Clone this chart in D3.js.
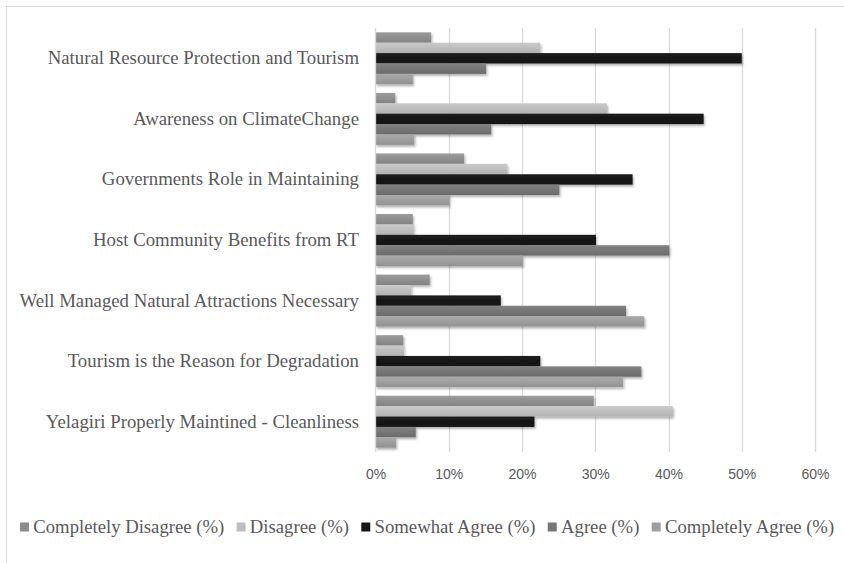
<!DOCTYPE html>
<html>
<head>
<meta charset="utf-8">
<script src="https://cdn.jsdelivr.net/npm/d3@7"></script>
<style>
  html, body { margin: 0; padding: 0; background: #fff; }
  svg { display: block; }
</style>
</head>
<body>
<svg id="chart" width="844" height="563"></svg>
<script>
const categories = [
  "Natural Resource Protection and Tourism",
  "Awareness on ClimateChange",
  "Governments Role in Maintaining",
  "Host Community Benefits from RT",
  "Well Managed Natural Attractions Necessary",
  "Tourism is the Reason for Degradation",
  "Yelagiri Properly Maintined - Cleanliness"
];
const seriesNames = [
  "Completely Disagree (%)",
  "Disagree (%)",
  "Somewhat Agree (%)",
  "Agree (%)",
  "Completely Agree (%)"
];
const completelyDisagree = [7.6, 2.7, 12.1, 5.1, 7.4, 3.8, 29.8];
const disagree           = [22.5, 31.6, 18.0, 5.2, 4.9, 3.9, 40.6];
const somewhatAgree      = [50.0, 44.8, 35.1, 30.1, 17.1, 22.5, 21.7];
const agree              = [15.1, 15.8, 25.1, 40.1, 34.2, 36.3, 5.5];
const completelyAgree    = [5.1, 5.3, 10.1, 20.1, 36.7, 33.8, 2.8];
const tickValues = [0, 10, 20, 30, 40, 50, 60];

const seriesValues = [completelyDisagree, disagree, somewhatAgree, agree, completelyAgree];
const colorsTop = ["#9c9c9c", "#cacaca", "#1e1e1e", "#828282", "#aaaaaa"];
const colorsBot = ["#828282", "#b2b2b2", "#111111", "#6a6a6a", "#929292"];
const legendColors = ["#8c8c8c", "#bebebe", "#161616", "#767676", "#9e9e9e"];

const svg = d3.select("#chart");
const defs = svg.append("defs");

const filt = defs.append("filter").attr("id", "shadow")
  .attr("x", "-5%").attr("y", "-30%").attr("width", "115%").attr("height", "190%");
filt.append("feDropShadow").attr("dx", 1.2).attr("dy", 2).attr("stdDeviation", 1.3)
  .attr("flood-color", "#000").attr("flood-opacity", 0.3);

seriesNames.forEach((s, i) => {
  const g = defs.append("linearGradient").attr("id", "grad" + i)
    .attr("x1", 0).attr("y1", 0).attr("x2", 0).attr("y2", 1);
  g.append("stop").attr("offset", "0%").attr("stop-color", colorsTop[i]);
  g.append("stop").attr("offset", "100%").attr("stop-color", colorsBot[i]);
});

// chart border (only top and left visible)
svg.append("rect")
  .attr("x", 6.5).attr("y", 6.5).attr("width", 900).attr("height", 600)
  .attr("fill", "#fff").attr("stroke", "#d9d9d9").attr("stroke-width", 1);

const x = d3.scaleLinear().domain([0, 60]).range([375.5, 815]);
const y = d3.scaleBand().domain(categories).range([28, 452]).paddingInner(0).paddingOuter(0);
const ySub = d3.scaleBand().domain(d3.range(seriesNames.length))
  .range([4.3, y.bandwidth() - 4.3]).paddingInner(0);

// gridlines
svg.append("g").selectAll("line")
  .data(tickValues.filter(d => d > 0))
  .join("line")
  .attr("x1", d => Math.round(x(d)) + 0.5).attr("x2", d => Math.round(x(d)) + 0.5)
  .attr("y1", 28).attr("y2", 452)
  .attr("stroke", "#d9d9d9").attr("stroke-width", 1.3);

// x axis tick labels
const xAxis = d3.axisBottom(x).tickValues(tickValues).tickFormat(d => d + "%").tickSize(0).tickPadding(0);
const gx = svg.append("g").attr("transform", "translate(0,466)").call(xAxis);
gx.select(".domain").remove();
gx.selectAll("text")
  .attr("font-family", "'Liberation Sans', Arial, sans-serif")
  .attr("font-size", 14).attr("fill", "#595959").attr("dy", "0.9em");

// bars
const groups = svg.append("g").selectAll("g")
  .data(categories)
  .join("g")
  .attr("transform", d => `translate(0,${y(d)})`);

groups.selectAll("rect")
  .data((c, ci) => seriesValues.map((vals, si) => ({ si, v: vals[ci] })))
  .join("rect")
  .attr("x", x(0))
  .attr("y", d => ySub(d.si))
  .attr("width", d => x(d.v) - x(0))
  .attr("height", ySub.bandwidth())
  .attr("fill", d => `url(#grad${d.si})`)
  .attr("filter", "url(#shadow)");

// vertical axis line
svg.append("line")
  .attr("x1", 375.5).attr("x2", 375.5).attr("y1", 28).attr("y2", 452)
  .attr("stroke", "#d9d9d9").attr("stroke-width", 1.3);

// y axis labels
const yAxis = d3.axisLeft(y).tickSize(0).tickPadding(0);
const gy = svg.append("g").attr("transform", "translate(359,0)").call(yAxis);
gy.select(".domain").remove();
gy.selectAll("text")
  .attr("font-family", "'Liberation Serif', 'Times New Roman', serif")
  .attr("font-size", 18.8).attr("fill", "#595959").attr("dy", "0.32em");

// legend
const legend = svg.append("g").attr("transform", "translate(0,527)");
let lx = 20;
seriesNames.forEach((name, i) => {
  legend.append("rect").attr("x", lx).attr("y", -4.5).attr("width", 9).attr("height", 9)
    .attr("fill", legendColors[i]);
  const t = legend.append("text")
    .attr("x", lx + 13.3).attr("y", 0).attr("dy", "0.33em")
    .attr("font-family", "'Liberation Serif', 'Times New Roman', serif")
    .attr("font-size", 18.7).attr("fill", "#595959")
    .text(name);
  lx = lx + 13.3 + t.node().getComputedTextLength() + 12.3;
});
</script>
</body>
</html>
